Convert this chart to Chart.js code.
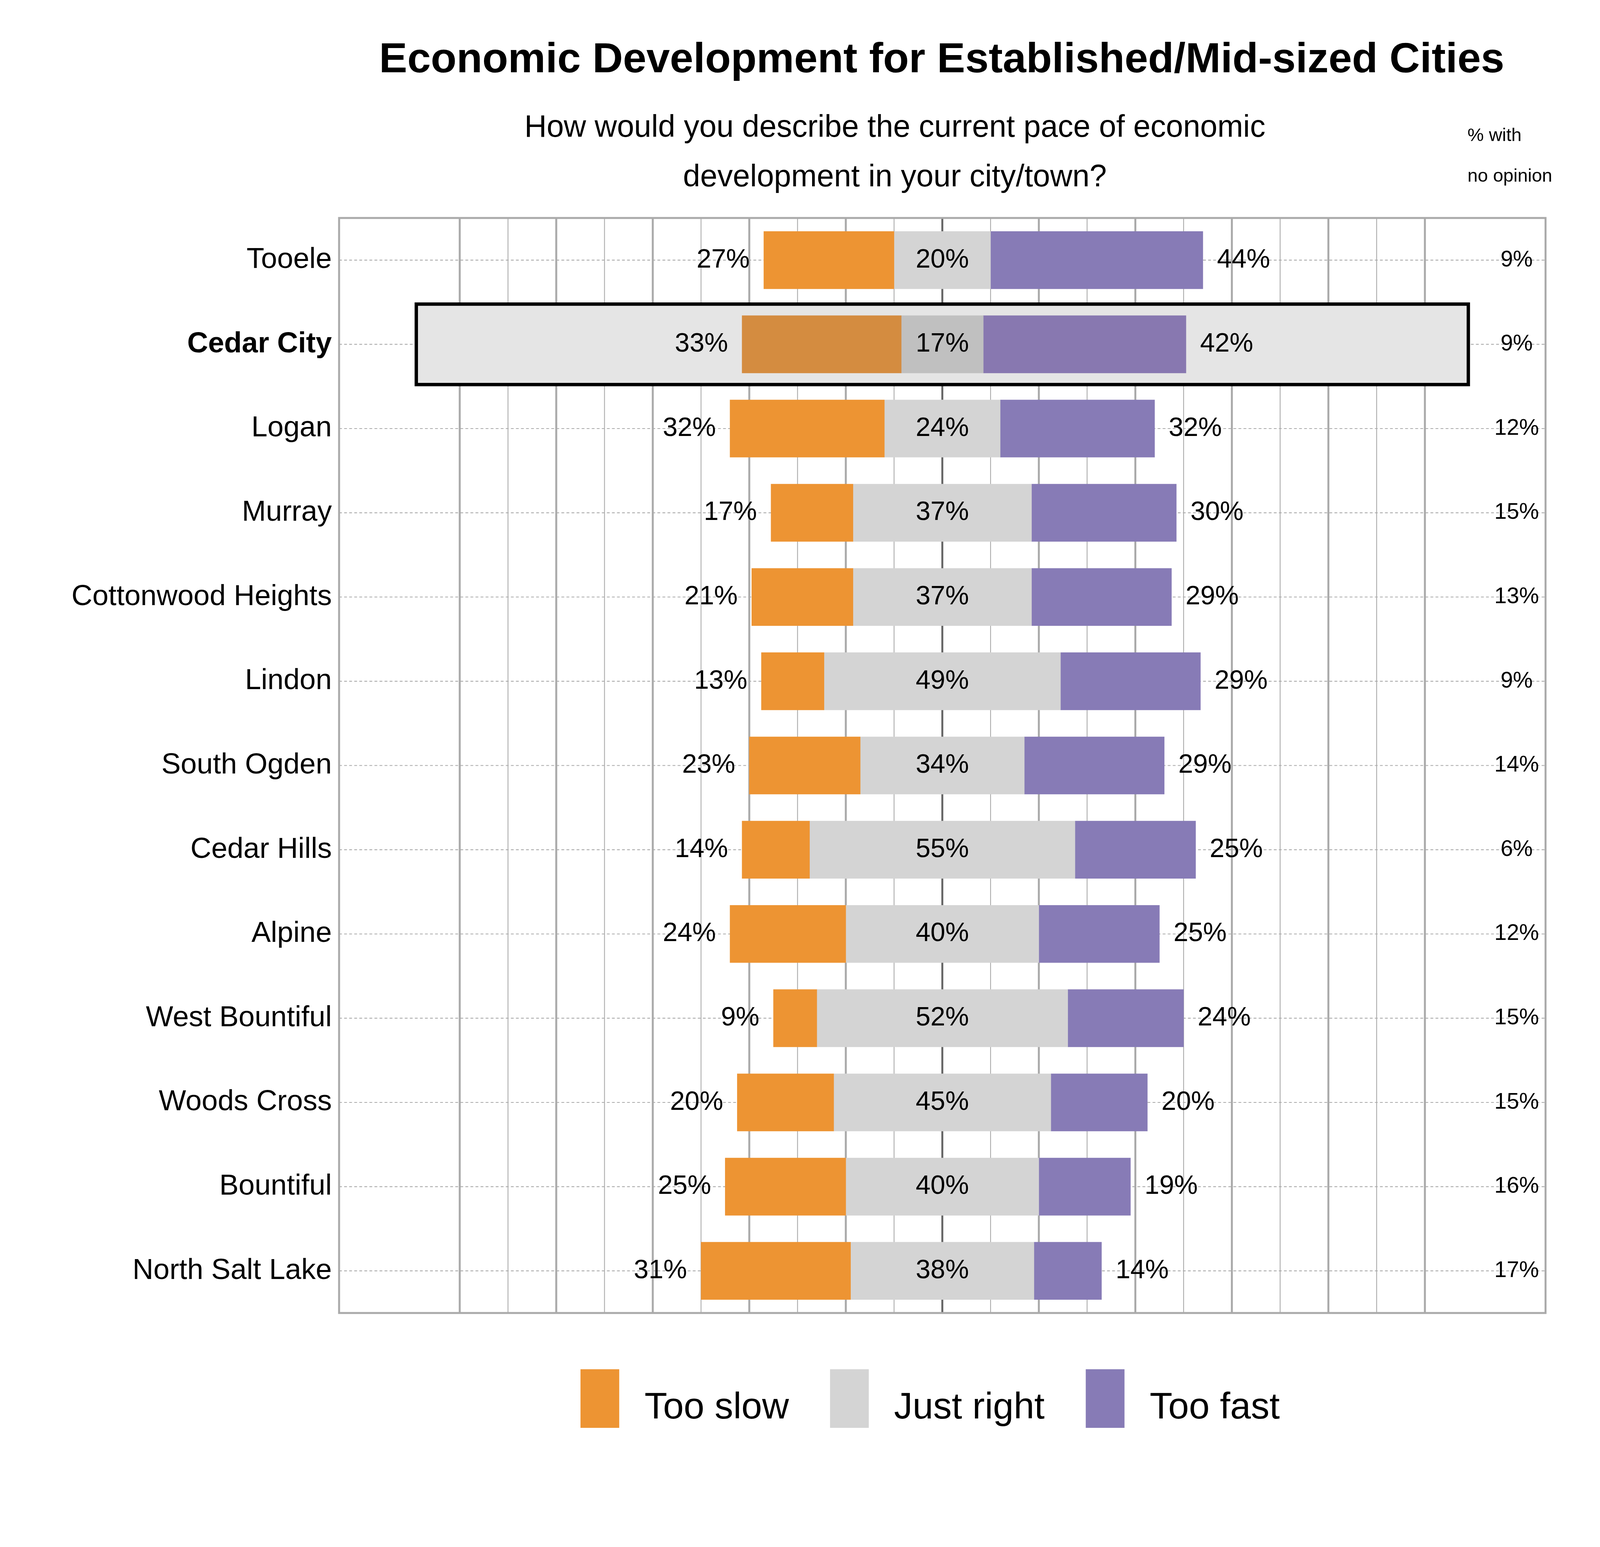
<!DOCTYPE html>
<html><head><meta charset="utf-8">
<script src="https://cdn.jsdelivr.net/npm/chart.js@4"></script>
<style>html,body{margin:0;padding:0;background:#fff;overflow:hidden;width:100vw;height:100vh}#w{position:absolute;left:0;top:0;width:100vw;height:100vh}</style>
</head><body><div id="w"><canvas id="c"></canvas></div>
<script>
const cities = ["Tooele","Cedar City","Logan","Murray","Cottonwood Heights","Lindon","South Ogden","Cedar Hills","Alpine","West Bountiful","Woods Cross","Bountiful","North Salt Lake"];
const tooSlow = [27,33,32,17,21,13,23,14,24,9,20,25,31];
const justRight = [20,17,24,37,37,49,34,55,40,52,45,40,38];
const tooFast = [44,42,32,30,29,29,29,25,25,24,20,19,14];
const noOpinion = [9,9,12,15,13,9,14,6,12,15,15,16,17];
const highlight = "Cedar City";
const xTicks = [-100,-90,-80,-70,-60,-50,-40,-30,-20,-10,0,10,20,30,40,50,60,70,80,90,100];

const F = "Liberation Sans, Arial, sans-serif";
const hi = cities.indexOf(highlight);
const colSlow = cities.map((c,i)=> i===hi ? "#D48C40" : "#ED9433");
const colJust = cities.map((c,i)=> i===hi ? "#C0C0C0" : "#D4D4D4");
const colFast = cities.map((c,i)=> i===hi ? "#8878B0" : "#877BB6");

const slowData = cities.map((c,i)=>[-justRight[i]/2 - tooSlow[i], -justRight[i]/2]);
const justData = cities.map((c,i)=>[-justRight[i]/2, justRight[i]/2]);
const fastData = cities.map((c,i)=>[justRight[i]/2, justRight[i]/2 + tooFast[i]]);

const W = window.innerWidth || 5700, H = window.innerHeight || 3960;
const kx = W/5700, ky = H/3960, k = Math.min(kx,ky);

const bg = {
  id:'bg',
  beforeDatasetsDraw(chart){
    const {ctx, chartArea:a, scales:{x,y}} = chart;
    ctx.save();
    ctx.strokeStyle="#aaaaaa"; ctx.lineWidth=3*k; ctx.setLineDash([10*k,8*k]);
    cities.forEach((c,i)=>{const yy=y.getPixelForValue(i);ctx.beginPath();ctx.moveTo(a.left,yy);ctx.lineTo(a.right,yy);ctx.stroke();});
    ctx.setLineDash([]);
    xTicks.forEach(v=>{
      const xx=x.getPixelForValue(v);
      ctx.strokeStyle = v===0 ? "#666666" : "#aaaaaa";
      ctx.lineWidth = ((v%20===0) ? 7 : 3)*k;
      ctx.beginPath();ctx.moveTo(xx,a.top);ctx.lineTo(xx,a.bottom);ctx.stroke();
    });
    const yy=y.getPixelForValue(hi);
    const x0=x.getPixelForValue(-109), x1=x.getPixelForValue(109);
    ctx.fillStyle="#E5E5E5"; ctx.fillRect(x0,yy-103*ky,x1-x0,206*ky);
    ctx.strokeStyle="#000"; ctx.lineWidth=12*k; ctx.strokeRect(x0,yy-103*ky,x1-x0,206*ky);
    ctx.restore();
  },
  afterDatasetsDraw(chart){
    const {ctx, chartArea:a, scales:{x,y}} = chart;
    ctx.save();
    ctx.strokeStyle="#aaaaaa"; ctx.lineWidth=7*k; ctx.strokeRect(a.left,a.top,a.right-a.left,a.bottom-a.top);
    ctx.fillStyle="#000"; ctx.textBaseline="middle";
    const f=(s,b)=> (b?"bold ":"")+Math.round(s*k)+"px "+F;
    cities.forEach((c,i)=>{
      const yy=y.getPixelForValue(i);
      ctx.font=f(103,i===hi); ctx.textAlign="right";
      ctx.fillText(c, a.left-26*kx, yy);
      ctx.font=f(95);
      ctx.fillText(tooSlow[i]+"%", x.getPixelForValue(slowData[i][0])-50*kx, yy);
      ctx.textAlign="center";
      ctx.fillText(justRight[i]+"%", x.getPixelForValue(0), yy);
      ctx.textAlign="left";
      ctx.fillText(tooFast[i]+"%", x.getPixelForValue(fastData[i][1])+50*kx, yy);
      ctx.textAlign="center"; ctx.font=f(80);
      ctx.fillText(noOpinion[i]+"%", 5403*kx, yy);
    });
    ctx.textAlign="center";
    ctx.font=f(150,true); ctx.fillText("Economic Development for Established/Mid-sized Cities", 3355*kx, 155*ky);
    ctx.font=f(110);
    ctx.fillText("How would you describe the current pace of economic", 3188*kx, 328*ky);
    ctx.fillText("development in your city/town?", 3188*kx, 455*ky);
    ctx.textAlign="left"; ctx.font=f(66);
    ctx.fillText("% with", 5228*kx, 348*ky);
    ctx.fillText("no opinion", 5228*kx, 452*ky);
    const leg=[["Too slow","#ED9433",2068],["Just right","#D4D4D4",2957],["Too fast","#877BB6",3868]];
    leg.forEach(([t,c,lx])=>{
      ctx.fillStyle=c; ctx.fillRect(lx*kx,3505*ky,138*kx,150*ky);
      ctx.fillStyle="#000"; ctx.font=f(132);
      ctx.fillText(t, (lx+228)*kx, 3605*ky);
    });
    ctx.restore();
  }
};

new Chart(document.getElementById('c'), {
  type:'bar',
  data:{labels:cities, datasets:[
    {label:"Too slow", data:slowData, backgroundColor:colSlow},
    {label:"Just right", data:justData, backgroundColor:colJust},
    {label:"Too fast", data:fastData, backgroundColor:colFast}
  ]},
  options:{
    indexAxis:'y', responsive:true, maintainAspectRatio:false, animation:false,
    layout:{padding:{left:1208*kx,right:194*kx,top:558*ky,bottom:599*ky}},
    datasets:{bar:{barThickness:147*ky, borderWidth:0, grouped:false}},
    plugins:{legend:{display:false},tooltip:{enabled:false},title:{display:false}},
    scales:{
      x:{min:-125,max:125,display:false,grid:{display:false}},
      y:{display:false,grid:{display:false}}
    }
  },
  plugins:[bg]
});
</script></body></html>
